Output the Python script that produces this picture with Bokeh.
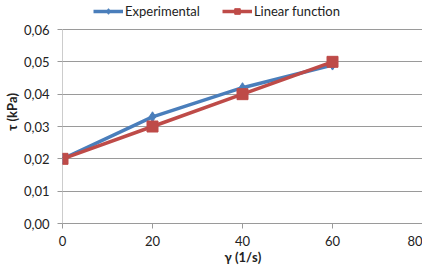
from bokeh.plotting import figure
from bokeh.models import Range1d, FixedTicker, Legend, LegendItem
from bokeh.embed import file_html
from bokeh.resources import INLINE

shear_rate = [0, 20, 40, 60]
experimental = [0.020, 0.033, 0.042, 0.049]
linear_fn = [0.020, 0.030, 0.040, 0.050]
x_ticks = [0, 20, 40, 60, 80]
y_ticks = [0.00, 0.01, 0.02, 0.03, 0.04, 0.05, 0.06]
y_tick_labels = ["0,00", "0,01", "0,02", "0,03", "0,04", "0,05", "0,06"]

BLUE = "#4A7EBB"
RED = "#BE4B48"
GRID = "#9a9a9a"
FONT = "Lato"

W, H = 422, 268
BORDER_L, BORDER_B = 56, 45
FRAME_H = H - BORDER_B
Y_MAX = y_ticks[-1]
Y_TOP = Y_MAX * FRAME_H / (FRAME_H - 29)  # headroom inside the frame for the legend

p = figure(width=W, height=H, output_backend="svg", toolbar_location=None,
           x_range=Range1d(0, 80), y_range=Range1d(0, Y_TOP),
           min_border_left=BORDER_L, min_border_right=0, min_border_top=0,
           min_border_bottom=BORDER_B)
p.outline_line_color = None
p.xgrid.grid_line_color = None
p.ygrid.grid_line_color = GRID
p.ygrid.ticker = FixedTicker(ticks=y_ticks)

p.xaxis.ticker = FixedTicker(ticks=x_ticks)
p.yaxis.ticker = FixedTicker(ticks=y_ticks)
p.yaxis.major_label_overrides = {t: l for t, l in zip(y_ticks, y_tick_labels)}
for ax in (p.xaxis, p.yaxis):
    ax.axis_line_color = GRID
    ax.major_tick_line_color = GRID
    ax.minor_tick_line_color = None
    ax.major_tick_in = 0
    ax.major_tick_out = 5
    ax.major_label_text_font = FONT
    ax.major_label_text_font_size = "13px"
    ax.major_label_text_color = "#222222"
    ax.axis_label_text_font = FONT
    ax.axis_label_text_font_size = "13px"
    ax.axis_label_text_font_style = "bold"
    ax.axis_label_text_color = "#222222"
p.yaxis.axis_line_color = None
p.segment(x0=[x_ticks[0]], y0=[y_ticks[0]], x1=[x_ticks[0]], y1=[Y_MAX],
          line_color=GRID, line_width=1)
p.xaxis.axis_label = "γ (1/s)"
p.yaxis.axis_label = "τ (kPa)"
p.xaxis.major_label_standoff = 7
p.xaxis.axis_label_standoff = 0
p.yaxis.major_label_standoff = 8
p.yaxis.axis_label_standoff = 1

l1 = p.line(shear_rate, experimental, line_color=BLUE, line_width=3.5)
m1 = p.scatter(shear_rate, experimental, marker="diamond", size=10,
               fill_color=BLUE, line_color=BLUE)
l2 = p.line(shear_rate, linear_fn, line_color=RED, line_width=3.5)
m2 = p.scatter(shear_rate, linear_fn, marker="square", size=11,
               fill_color=RED, line_color=RED)

legend = Legend(items=[LegendItem(label="Experimental", renderers=[l1, m1]),
                       LegendItem(label="Linear function", renderers=[l2, m2])],
                orientation="horizontal", location=(31, FRAME_H - 19),
                border_line_color=None, background_fill_alpha=0,
                padding=0, margin=0, spacing=22,
                glyph_width=30, glyph_height=14, label_height=14,
                label_standoff=2,
                label_text_font=FONT, label_text_font_size="13px",
                label_text_color="#222222")
p.add_layout(legend, "center")

open("out.html", "w").write(file_html(p, INLINE))
